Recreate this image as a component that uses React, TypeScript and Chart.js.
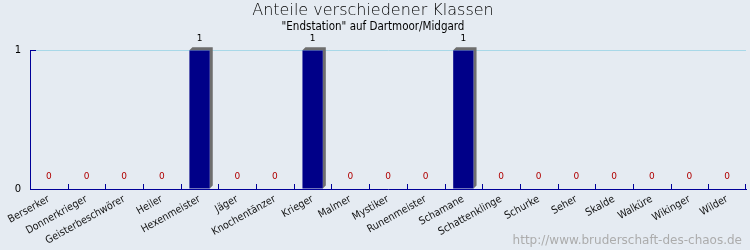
import React, { useEffect, useRef } from "react";
import { Chart, registerables } from "chart.js";

Chart.register(...registerables);

const categories = [
  "Berserker",
  "Donnerkrieger",
  "Geisterbeschwörer",
  "Heiler",
  "Hexenmeister",
  "Jäger",
  "Knochentänzer",
  "Krieger",
  "Malmer",
  "Mystiker",
  "Runenmeister",
  "Schamane",
  "Schattenklinge",
  "Schurke",
  "Seher",
  "Skalde",
  "Walküre",
  "Wikinger",
  "Wilder",
];
const counts = [0, 0, 0, 0, 1, 0, 0, 1, 0, 0, 0, 1, 0, 0, 0, 0, 0, 0, 0];
const yTickValues = [0, 1];
const titleText = "Anteile verschiedener Klassen";
const subtitleText = '"Endstation" auf Dartmoor/Midgard';
const watermarkText = "http://www.bruderschaft-des-chaos.de";

const FONT = "'DejaVu Sans', sans-serif";
const FONT_C = "'DejaVu Sans Condensed', 'DejaVu Sans', sans-serif";
const BG = "#E5EBF2";
const AXIS = "#000099";
const GRID = "#A8D8E8";
const BAR = "#000088";
const SHADOW = "#6E6E6E";

const decorPlugin = {
  id: "decor",
  beforeDraw(chart: any) {
    const { ctx, width, height } = chart;
    ctx.save();
    ctx.fillStyle = BG;
    ctx.fillRect(0, 0, width, height);
    ctx.restore();
  },
  beforeDatasetsDraw(chart: any) {
    const { ctx } = chart;
    const meta = chart.getDatasetMeta(0);
    const d = 3;
    ctx.save();
    ctx.fillStyle = SHADOW;
    meta.data.forEach((el: any) => {
      const p = el.getProps(["x", "y", "base", "width"], true);
      if (Math.abs(p.base - p.y) < 0.5) return;
      const x0 = p.x - p.width / 2;
      const x1 = p.x + p.width / 2;
      const top = Math.min(p.y, p.base);
      const bot = Math.max(p.y, p.base);
      ctx.beginPath();
      ctx.moveTo(x0, top);
      ctx.lineTo(x0 + d, top - d);
      ctx.lineTo(x1 + d, top - d);
      ctx.lineTo(x1 + d, bot - d);
      ctx.lineTo(x1, bot);
      ctx.lineTo(x1, top);
      ctx.closePath();
      ctx.fill();
    });
    ctx.restore();
  },
  afterDatasetsDraw(chart: any) {
    const { ctx } = chart;
    const meta = chart.getDatasetMeta(0);
    const values = chart.data.datasets[0].data;
    ctx.save();
    ctx.font = `9px ${FONT}`;
    ctx.textAlign = "center";
    ctx.textBaseline = "middle";
    meta.data.forEach((el: any, i: number) => {
      const v = values[i];
      const p = el.getProps(["x", "y"], true);
      ctx.fillStyle = v === 0 ? "#B00000" : "#000000";
      ctx.fillText(String(v), p.x, p.y - 12);
    });
    // inward ticks
    const xs = chart.scales.x;
    const ys = chart.scales.y;
    const area = chart.chartArea;
    ctx.strokeStyle = AXIS;
    ctx.lineWidth = 1;
    const n = categories.length;
    const half = (xs.getPixelForValue(1) - xs.getPixelForValue(0)) / 2;
    ctx.beginPath();
    for (let i = 1; i < n; i++) {
      const x = Math.round(xs.getPixelForValue(i) - half) + 0.5;
      ctx.moveTo(x, area.bottom);
      ctx.lineTo(x, area.bottom - 5);
    }
    const xr = Math.round(xs.getPixelForValue(n - 1) + half) - 0.5;
    ctx.moveTo(xr, area.bottom);
    ctx.lineTo(xr, area.bottom - 5);
    const yt = Math.round(ys.getPixelForValue(1)) + 0.5;
    ctx.moveTo(area.left, yt);
    ctx.lineTo(area.left + 6, yt);
    ctx.stroke();
    ctx.restore();
  },
  afterDraw(chart: any) {
    const { ctx } = chart;
    ctx.save();
    ctx.font = `12px ${FONT}`;
    ctx.fillStyle = "#ACACAC";
    ctx.textAlign = "right";
    ctx.textBaseline = "alphabetic";
    ctx.fillText(watermarkText, 742, 244);
    ctx.restore();
  },
};

export default function App() {
  const ref = useRef<HTMLCanvasElement | null>(null);
  useEffect(() => {
    document.body.style.margin = "0";
    document.body.style.background = BG;
    const canvas = ref.current;
    if (!canvas) return;
    const chart = new Chart(canvas, {
      type: "bar",
      data: {
        labels: categories,
        datasets: [
          {
            data: counts,
            backgroundColor: BAR,
            borderWidth: 0,
            barPercentage: 0.54,
            categoryPercentage: 1,
          },
        ],
      },
      options: {
        animation: false,
        responsive: false,
        maintainAspectRatio: false,
        layout: { padding: { left: 0, right: 4, top: 0, bottom: 0 } },
        plugins: {
          legend: { display: false },
          tooltip: { enabled: false },
          title: {
            display: true,
            text: titleText,
            color: "#000000",
            font: { family: FONT, size: 16, weight: "200" as any },
            padding: { top: 1, bottom: 0 },
          },
          subtitle: {
            display: true,
            text: subtitleText,
            color: "#000000",
            font: { family: FONT_C, size: 11.5 },
            padding: { top: 0, bottom: 16.2 },
          },
        },
        scales: {
          x: {
            offset: true,
            grid: { display: false, drawTicks: false },
            border: { display: true, color: AXIS, width: 1 },
            ticks: {
              autoSkip: false,
              minRotation: 29,
              maxRotation: 29,
              padding: 4,
              color: "#111111",
              font: { family: FONT_C, size: 10.5 },
            },
            afterFit(scale: any) {
              scale.height = 61;
              scale.paddingLeft = 0;
              scale.paddingRight = 0;
            },
          },
          y: {
            min: 0,
            max: 1,
            afterBuildTicks(scale: any) {
              scale.ticks = yTickValues.map((v) => ({ value: v }));
            },
            grid: {
              drawTicks: false,
              color: (c: any) => (c.tick && c.tick.value === 1 ? GRID : "rgba(0,0,0,0)"),
            },
            border: { display: true, color: AXIS, width: 1 },
            ticks: {
              padding: 9,
              color: "#000000",
              font: { family: FONT, size: 10 },
            },
            afterFit(scale: any) {
              scale.width = 30;
              scale.paddingTop = 0;
              scale.paddingBottom = 0;
            },
          },
        },
      },
      plugins: [decorPlugin],
    });
    return () => chart.destroy();
  }, []);
  return (
    <div style={{ position: "absolute", left: 0, top: 0, width: 750, height: 250 }}>
      <canvas ref={ref} width={750} height={250} style={{ display: "block" }} />
    </div>
  );
}
